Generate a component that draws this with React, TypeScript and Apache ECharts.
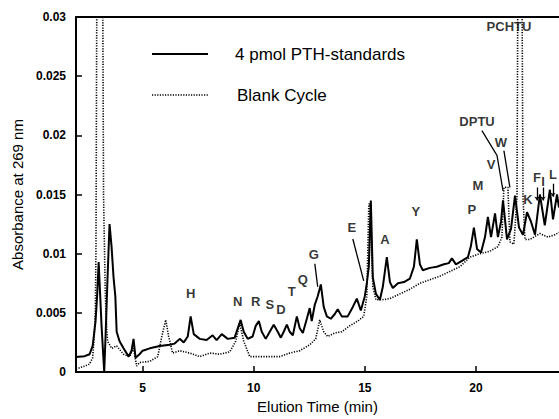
import React, { useEffect, useRef } from "react";
import * as echarts from "echarts";

// Elution time (min) and absorbance for the 4 pmol PTH standards run
const stdTime = [2.0, 2.39, 2.61, 2.75, 2.88, 2.95, 3.02, 3.09, 3.15, 3.27, 3.33, 3.42, 3.51, 3.6, 3.69, 3.77, 3.83, 3.96, 4.14, 4.37, 4.5, 4.59, 4.68, 4.86, 5.0, 5.32, 5.77, 6.22, 6.44, 6.67, 6.85, 7.03, 7.16, 7.3, 7.57, 7.88, 8.15, 8.33, 8.56, 8.83, 9.14, 9.28, 9.41, 9.55, 9.73, 9.95, 10.09, 10.23, 10.36, 10.54, 10.72, 10.9, 11.08, 11.22, 11.35, 11.49, 11.62, 11.76, 11.94, 12.07, 12.21, 12.39, 12.52, 12.61, 12.75, 12.88, 13.02, 13.15, 13.29, 13.47, 13.65, 13.78, 13.96, 14.23, 14.46, 14.64, 14.82, 15.0, 15.09, 15.18, 15.27, 15.36, 15.5, 15.68, 15.81, 15.99, 16.13, 16.26, 16.49, 16.76, 17.03, 17.21, 17.34, 17.48, 17.61, 17.93, 18.24, 18.56, 18.78, 18.92, 19.1, 19.37, 19.64, 19.77, 19.91, 20.05, 20.23, 20.41, 20.54, 20.68, 20.86, 20.99, 21.13, 21.22, 21.4, 21.58, 21.76, 21.94, 22.12, 22.3, 22.48, 22.66, 22.88, 23.1, 23.33, 23.47, 23.65, 23.74];
const stdAbs = [0.00126, 0.00134, 0.0015, 0.0022, 0.0043, 0.0064, 0.0093, 0.0064, 0.0039, 0.0, 0.003, 0.008, 0.0125, 0.0106, 0.008, 0.0064, 0.0034, 0.0026, 0.002, 0.0013, 0.0018, 0.0028, 0.0012, 0.0015, 0.0018, 0.002, 0.0022, 0.0023, 0.0024, 0.0028, 0.0025, 0.003, 0.0047, 0.0032, 0.0028, 0.0027, 0.0031, 0.0027, 0.0032, 0.0028, 0.0029, 0.0037, 0.0044, 0.0034, 0.0028, 0.003, 0.0039, 0.0043, 0.0034, 0.0028, 0.0034, 0.004, 0.0034, 0.0029, 0.0034, 0.004, 0.0034, 0.0031, 0.0047, 0.0037, 0.0033, 0.0045, 0.0054, 0.0043, 0.0057, 0.0064, 0.0074, 0.0055, 0.0047, 0.0045, 0.0049, 0.0053, 0.0047, 0.0047, 0.0055, 0.0062, 0.0052, 0.0064, 0.0075, 0.0089, 0.0145, 0.008, 0.0066, 0.0061, 0.0072, 0.0097, 0.0076, 0.0071, 0.0075, 0.0076, 0.0079, 0.0089, 0.0112, 0.0091, 0.0086, 0.0088, 0.0089, 0.0091, 0.0092, 0.0096, 0.0091, 0.0094, 0.0097, 0.0106, 0.0122, 0.0104, 0.0101, 0.0114, 0.0131, 0.0114, 0.0134, 0.0114, 0.0127, 0.0145, 0.0112, 0.0121, 0.0149, 0.0122, 0.0116, 0.0135, 0.0127, 0.0116, 0.015, 0.0124, 0.0154, 0.0129, 0.015, 0.0139];

// Blank cycle (off-scale peaks given as 0.034, clipped at the top of the axis)
const blankTime = [2.0, 2.39, 2.61, 2.75, 2.82, 2.87, 2.9, 2.94, 2.97, 3.2, 3.24, 3.32, 3.38, 3.42, 3.6, 3.83, 4.14, 4.41, 4.59, 4.73, 4.86, 5.32, 5.68, 5.86, 6.04, 6.17, 6.35, 6.67, 7.12, 7.57, 8.02, 8.47, 8.92, 9.19, 9.37, 9.55, 9.82, 10.27, 10.72, 11.17, 11.62, 12.07, 12.52, 12.79, 12.97, 13.15, 13.33, 13.65, 13.96, 14.32, 14.68, 14.95, 15.09, 15.18, 15.23, 15.36, 15.5, 15.77, 16.13, 16.58, 17.03, 17.48, 17.93, 18.38, 18.83, 19.28, 19.73, 20.18, 20.63, 20.99, 21.17, 21.26, 21.44, 21.53, 21.71, 21.85, 21.89, 22.07, 22.12, 22.21, 22.43, 22.88, 23.24, 23.56, 23.74];
const blankAbs = [0.00025, 0.0005, 0.00067, 0.0012, 0.003, 0.0051, 0.0106, 0.034, 0.034, 0.034, 0.0148, 0.0065, 0.0037, 0.0026, 0.002, 0.0022, 0.0015, 0.0013, 0.002, 0.0005, 0.0008, 0.0009, 0.0013, 0.003, 0.0044, 0.003, 0.0016, 0.0018, 0.0016, 0.0013, 0.0016, 0.0015, 0.0017, 0.0026, 0.0041, 0.0026, 0.0013, 0.0013, 0.0013, 0.0013, 0.0016, 0.0018, 0.0023, 0.0028, 0.0044, 0.0034, 0.003, 0.0033, 0.0034, 0.0039, 0.0043, 0.0047, 0.0064, 0.0142, 0.0142, 0.0072, 0.0061, 0.0061, 0.0062, 0.0066, 0.007, 0.0075, 0.0078, 0.0081, 0.0085, 0.0089, 0.0097, 0.01, 0.0102, 0.0106, 0.0114, 0.0156, 0.0156, 0.011, 0.0108, 0.0148, 0.034, 0.034, 0.0148, 0.0112, 0.0112, 0.0117, 0.0114, 0.0116, 0.0118];

// Peak labels: name, time, absorbance position
const peakNames = ["H", "N", "R", "S", "D", "T", "Q", "G", "E", "A", "Y", "P", "M", "V", "W", "DPTU", "PCHTU", "K", "F", "I", "L"];
const peakTimes = [7.16, 9.28, 10.09, 10.72, 11.22, 11.71, 12.21, 12.7, 14.41, 15.9, 17.3, 19.82, 20.09, 20.68, 21.13, 20.05, 21.49, 22.34, 22.75, 23.02, 23.47];
const peakAbs = [0.0066, 0.006, 0.006, 0.0057, 0.0053, 0.0068, 0.0078, 0.0099, 0.0122, 0.0112, 0.0136, 0.0137, 0.0158, 0.0175, 0.0194, 0.0212, 0.0292, 0.0146, 0.0164, 0.0161, 0.0167];

// Arrows (polylines in data coordinates)
const arrowPaths: number[][][] = [
  [[12.75, 0.00915], [12.88, 0.0072]],
  [[14.46, 0.01124], [14.95, 0.0077]],
  [[20.27, 0.0204], [20.95, 0.0183], [21.22, 0.0153]],
  [[21.26, 0.0187], [21.53, 0.0156]],
];
const tickMarks: number[][][] = [
  [[22.75, 0.0156], [22.75, 0.0145]],
  [[23.02, 0.0156], [23.02, 0.0145]],
  [[23.47, 0.0159], [23.47, 0.0148]],
];

const xTicks = [5, 10, 15, 20];
const seriesNames = ["4 pmol PTH-standards", "Blank Cycle"];

const FONT = "'Liberation Sans', Arial, Helvetica, sans-serif";

export default function App() {
  const ref = useRef<HTMLDivElement>(null);
  useEffect(() => {
    if (!ref.current) return;
    const chart = echarts.init(ref.current, undefined, { renderer: "svg" });
    const stdData = stdTime.map((t, i) => [t, stdAbs[i]]);
    const blankData = blankTime.map((t, i) => [t, blankAbs[i]]);
    const labelData = peakNames.map((n, i) => ({ name: n, value: [peakTimes[i], peakAbs[i]] }));
    chart.setOption({
      animation: false,
      backgroundColor: "#fff",
      textStyle: { fontFamily: FONT },
      grid: { left: 76, right: 0, top: 17, bottom: 43, containLabel: false },
      graphic: [
        { type: "line", shape: { x1: 152, y1: 54, x2: 208, y2: 54 }, style: { stroke: "#000", lineWidth: 2 } },
        { type: "text", x: 235, y: 54, style: { text: seriesNames[0], fontSize: 17, fill: "#000", fontFamily: FONT, textVerticalAlign: "middle", verticalAlign: "middle" } },
        { type: "line", shape: { x1: 152, y1: 95, x2: 208, y2: 95 }, style: { stroke: "#000", lineWidth: 1.6, lineDash: [1.2, 1.4] } },
        { type: "text", x: 237, y: 95, style: { text: seriesNames[1], fontSize: 17, fill: "#000", fontFamily: FONT, textVerticalAlign: "middle", verticalAlign: "middle" } },
      ],
      xAxis: [
        {
          type: "value",
          min: 2,
          max: 23.74,
          name: "Elution Time (min)",
          nameLocation: "middle",
          nameGap: 27,
          nameTextStyle: { fontSize: 15, color: "#000", fontFamily: FONT },
          axisLine: { show: true, lineStyle: { color: "#000", width: 2 } },
          axisTick: { show: true, inside: true, length: 6, customValues: xTicks, lineStyle: { color: "#000", width: 1.5 } },
          axisLabel: { show: true, customValues: xTicks, fontSize: 12, fontWeight: "bold", color: "#000", margin: 10 },
          splitLine: { show: false },
        },
        {
          type: "value",
          position: "top",
          min: 2,
          max: 23.74,
          axisLine: { show: true, onZero: false, lineStyle: { color: "#000", width: 2 } },
          axisTick: { show: false },
          axisLabel: { show: false },
          splitLine: { show: false },
        },
      ],
      yAxis: {
        type: "value",
        min: 0,
        max: 0.03,
        interval: 0.005,
        name: "Absorbance at 269 nm",
        nameLocation: "middle",
        nameGap: 51,
        nameTextStyle: { fontSize: 15, color: "#000", fontFamily: FONT },
        axisLine: { show: true, lineStyle: { color: "#000", width: 2 } },
        axisTick: { show: true, inside: true, length: 6, lineStyle: { color: "#000", width: 1.5 } },
        axisLabel: { fontSize: 12, fontWeight: "bold", color: "#000", margin: 10 },
        splitLine: { show: false },
      },
      series: [
        {
          name: seriesNames[1],
          type: "line",
          data: blankData,
          symbol: "none",
          clip: true,
          lineStyle: { color: "#000", width: 1.6, type: [1.2, 1.4] },
          itemStyle: { color: "#000" },
          z: 2,
        },
        {
          name: seriesNames[0],
          type: "line",
          data: stdData,
          symbol: "none",
          clip: true,
          lineStyle: { color: "#000", width: 2 },
          itemStyle: { color: "#000" },
          z: 3,
        },
        {
          name: "labels",
          type: "scatter",
          data: labelData,
          symbolSize: 0,
          silent: true,
          label: {
            show: true,
            position: "inside",
            formatter: "{b}",
            fontSize: 13,
            fontWeight: "bold",
            color: "#000",
            fontFamily: FONT,
          },
          z: 5,
        },
        {
          name: "arrows",
          type: "lines",
          coordinateSystem: "cartesian2d",
          polyline: true,
          silent: true,
          symbol: ["none", "arrow"],
          symbolSize: 6,
          lineStyle: { color: "#000", width: 1.3, opacity: 1, curveness: 0 },
          data: arrowPaths.map((c) => ({ coords: c })),
          z: 5,
        },
        {
          name: "ticks",
          type: "lines",
          coordinateSystem: "cartesian2d",
          silent: true,
          symbol: ["none", "arrow"],
          symbolSize: 4,
          lineStyle: { color: "#000", width: 1.3, opacity: 1 },
          data: tickMarks.map((c) => ({ coords: c })),
          z: 5,
        },
      ],
    });
    return () => chart.dispose();
  }, []);
  return <div ref={ref} style={{ width: 559, height: 419, position: "absolute", left: 0, top: 0 }} />;
}
